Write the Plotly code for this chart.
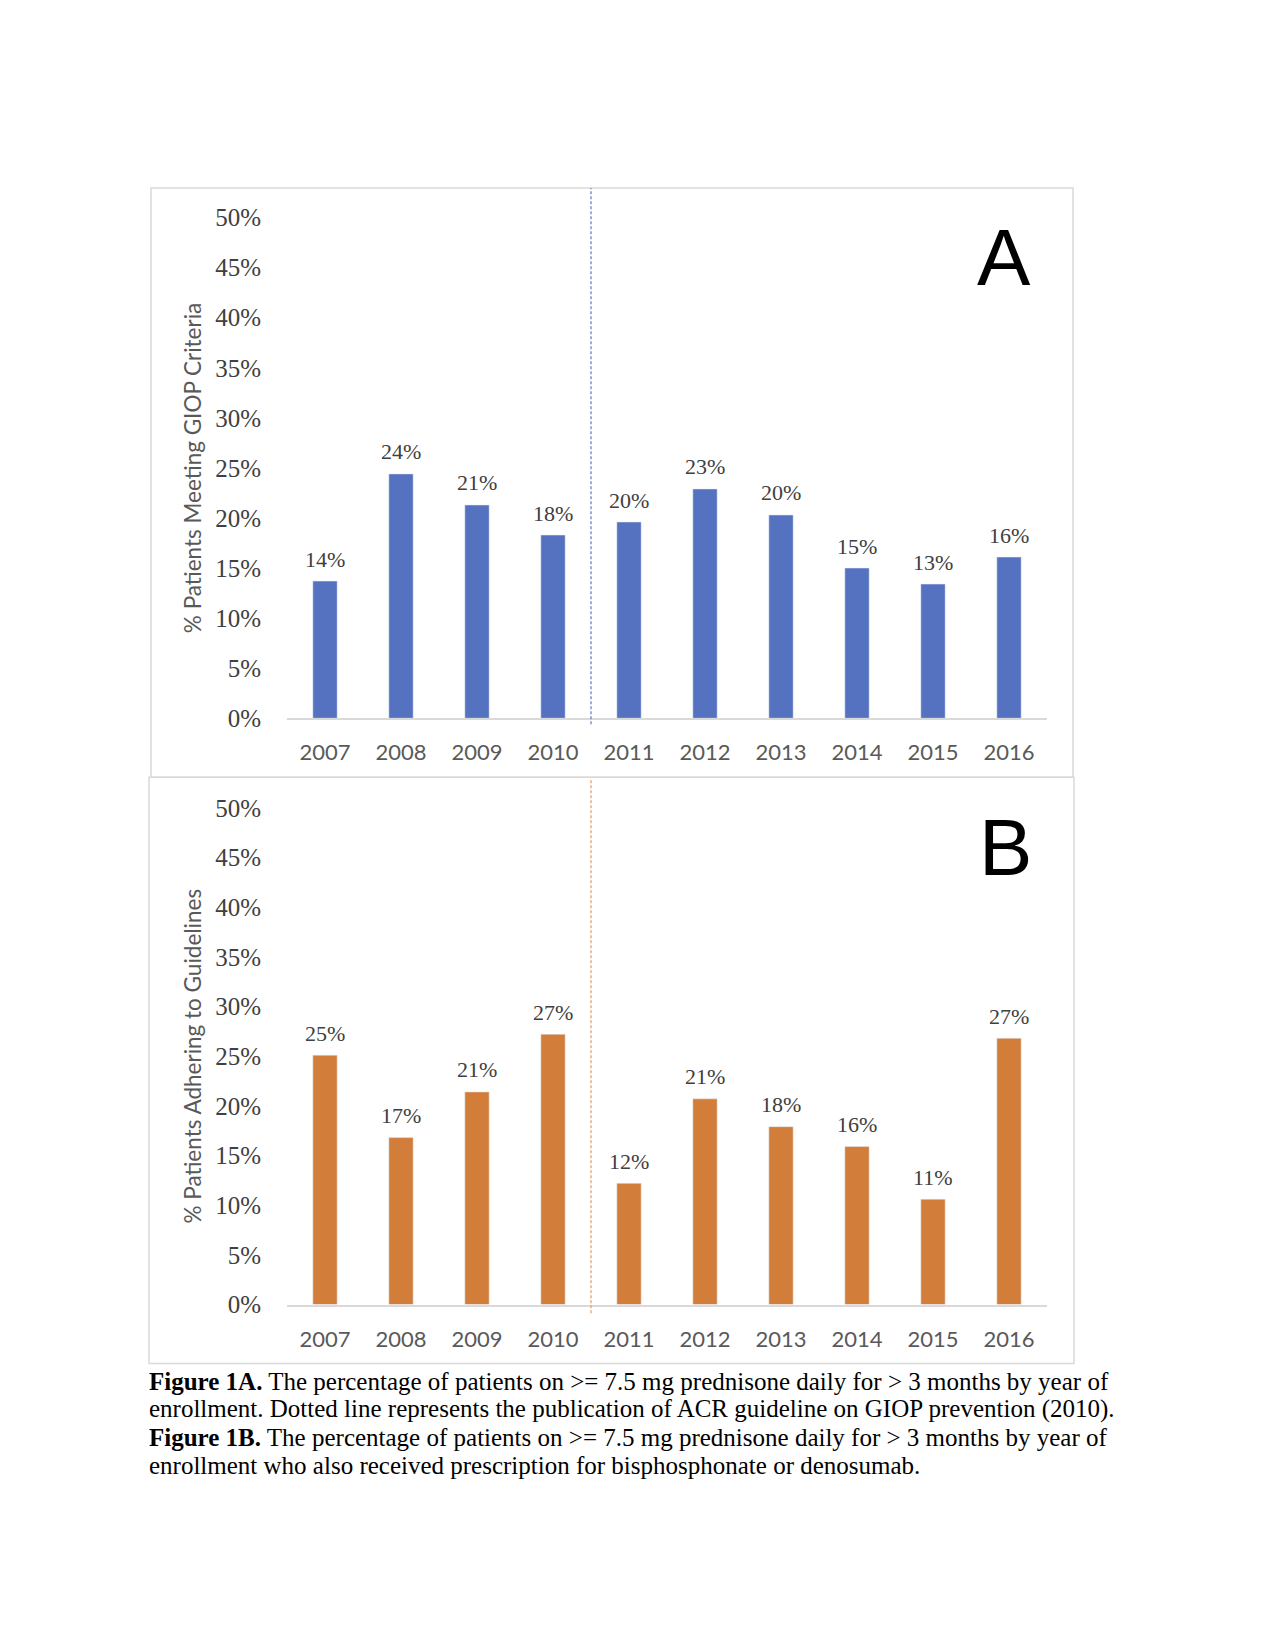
import plotly.graph_objects as go

# ---------------- data ----------------
years = ["2007", "2008", "2009", "2010", "2011", "2012", "2013", "2014", "2015", "2016"]
giop_pct = [13.7, 24.4, 21.3, 18.3, 19.6, 22.9, 20.3, 15.0, 13.4, 16.1]
adherence_pct = [25.1, 16.8, 21.4, 27.2, 12.2, 20.7, 17.9, 15.9, 10.6, 26.8]
y_ticks = [0, 5, 10, 15, 20, 25, 30, 35, 40, 45, 50]
y_tick_text = [f"{t}%" for t in y_ticks]
y_title_a = "% Patients Meeting GIOP Criteria"
y_title_b = "% Patients Adhering to Guidelines"
guideline_year_gap = 3.5  # between 2010 and 2011 (category index)
caption_lines = [
    "<b>Figure 1A.</b> The percentage of patients on >= 7.5 mg prednisone daily for > 3 months by year of",
    "enrollment. Dotted line represents the publication of ACR guideline on GIOP prevention (2010).",
    "<b>Figure 1B.</b> The percentage of patients on >= 7.5 mg prednisone daily for > 3 months by year of",
    "enrollment who also received prescription for bisphosphonate or denosumab.",
]

W, H = 1275, 1650
BLUE = "#5572C0"
ORANGE = "#D37D3B"
SERIF = "Liberation Serif"
SANS = "Lato"


def px_y(p):
    return 1 - p / H


def px_x(p):
    return p / W


fig = go.Figure()
fig.add_trace(go.Bar(x=years, y=giop_pct, marker_color=BLUE, xaxis="x", yaxis="y",
                     showlegend=False))
fig.add_trace(go.Bar(x=years, y=adherence_pct, marker_color=ORANGE, xaxis="x2", yaxis="y2",
                     showlegend=False))

xdom = [px_x(287), px_x(1047)]


def xaxis_cfg(anchor):
    return dict(domain=xdom, anchor=anchor, type="category", showgrid=False, showline=True,
                linecolor="#d9d9d9", linewidth=1.5, ticks="outside", ticklen=14,
                tickcolor="rgba(0,0,0,0)", range=[-0.5, len(years) - 0.5],
                tickfont=dict(family=SANS, size=22, color="#595959"))


def yaxis_cfg(anchor, dom, title):
    return dict(domain=dom, anchor=anchor, range=[0, 50], tickmode="array",
                tickvals=y_ticks, ticktext=y_tick_text, showgrid=False,
                zeroline=False, showline=False, ticks="outside", ticklen=20,
                tickcolor="rgba(0,0,0,0)",
                tickfont=dict(family=SERIF, size=25, color="#404040"),
                title=dict(text=title, font=dict(family=SANS, size=22.5, color="#595959"),
                           standoff=7))


fig.update_layout(
    width=W, height=H,
    margin=dict(l=0, r=0, t=0, b=0),
    paper_bgcolor="white", plot_bgcolor="white",
    bargap=0.68,
    xaxis=xaxis_cfg("y"),
    xaxis2=xaxis_cfg("y2"),
    yaxis=yaxis_cfg("x", [px_y(717), px_y(208)], y_title_a),
    yaxis2=yaxis_cfg("x2", [px_y(1313), px_y(808)], y_title_b),
)

annotations = []
for xr, yr, vals in [("x", "y", giop_pct), ("x2", "y2", adherence_pct)]:
    for i, v in enumerate(vals):
        annotations.append(dict(x=i, y=v, xref=xr, yref=yr, text=f"{v:.0f}%",
                                showarrow=False, yanchor="middle", yshift=22,
                                font=dict(family=SERIF, size=22, color="#404040")))

annotations.append(dict(x=px_x(1004), y=px_y(249), xref="paper", yref="paper", text="A",
                        showarrow=False, xanchor="center", yanchor="middle",
                        font=dict(family="Liberation Sans", size=80, color="black")))
annotations.append(dict(x=px_x(1005), y=px_y(848), xref="paper", yref="paper", text="B",
                        showarrow=False, xanchor="center", yanchor="middle",
                        font=dict(family="Liberation Sans", size=80, color="black")))

cap_y = [1391, 1419.5, 1448, 1476.5]
for line, cy in zip(caption_lines, cap_y):
    annotations.append(dict(x=px_x(147), y=px_y(cy), xref="paper", yref="paper", text=line,
                            showarrow=False, xanchor="left", yanchor="middle",
                            font=dict(family=SERIF, size=25, color="black")))
fig.update_layout(annotations=annotations)

shapes = [
    # panel borders
    dict(type="rect", xref="paper", yref="paper", x0=px_x(151), x1=px_x(1073),
         y0=px_y(777), y1=px_y(178), line=dict(color="#d9d9d9", width=1.5)),
    dict(type="rect", xref="paper", yref="paper", x0=px_x(149), x1=px_x(1074),
         y0=px_y(1373), y1=px_y(777), line=dict(color="#d9d9d9", width=1.5)),
    # guideline publication markers
    dict(type="line", xref="x", yref="paper", x0=guideline_year_gap, x1=guideline_year_gap,
         y0=px_y(723), y1=px_y(178), line=dict(color="#6f80c4", width=1.3, dash="3px,2px")),
    dict(type="line", xref="x2", yref="paper", x0=guideline_year_gap, x1=guideline_year_gap,
         y0=px_y(1322), y1=px_y(778), line=dict(color="#e2a070", width=1.3, dash="3px,2px")),
]
fig.update_layout(shapes=shapes)

fig.write_html("out.html", config={"displayModeBar": False},
               post_script="document.body.style.margin='0';")
